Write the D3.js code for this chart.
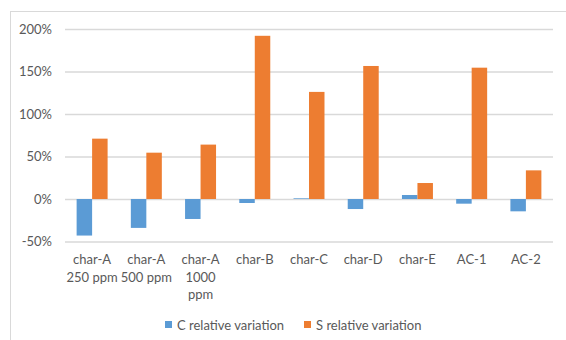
<!DOCTYPE html>
<html>
<head>
<meta charset="utf-8">
<script src="https://cdn.jsdelivr.net/npm/d3@7"></script>
<style>
  html, body { margin: 0; padding: 0; background: #fff; }
  svg text { font-family: Lato, "Liberation Sans", sans-serif; fill: #595959; }
</style>
</head>
<body>
<svg id="chart" width="566" height="340"></svg>
<script>
// Relative variation of C and S per sample
const categories = ["char-A 250 ppm", "char-A 500 ppm", "char-A 1000 ppm", "char-B", "char-C", "char-D", "char-E", "AC-1", "AC-2"];
const categoryLines = [["char-A", "250 ppm"], ["char-A", "500 ppm"], ["char-A", "1000", "ppm"], ["char-B"], ["char-C"], ["char-D"], ["char-E"], ["AC-1"], ["AC-2"]];
const cVariation = [-0.43, -0.34, -0.235, -0.047, 0.008, -0.118, 0.047, -0.055, -0.145];
const sVariation = [0.71, 0.545, 0.64, 1.92, 1.26, 1.565, 0.188, 1.545, 0.337];
const seriesNames = ["C relative variation", "S relative variation"];
const yTicks = [-0.5, 0, 0.5, 1, 1.5, 2];

const colors = ["#5B9BD5", "#ED7D31"];
const svg = d3.select("#chart");

// chart frame
svg.append("rect")
  .attr("x", 10.5).attr("y", 11.5)
  .attr("width", 700).attr("height", 500)
  .attr("fill", "none").attr("stroke", "#D9D9D9");

const plot = { left: 65, right: 553, top: 29, bottom: 241.5 };

const y = d3.scaleLinear().domain([-0.5, 2]).range([plot.bottom, plot.top]);
const x = d3.scaleBand().domain(categories).range([plot.left, plot.right]).paddingInner(0).paddingOuter(0);
const inner = d3.scaleBand().domain([0, 1]).range([0, x.bandwidth() * 0.5714]);
const offset = (x.bandwidth() - inner.range()[1]) / 2;

// percent labels with a plain hyphen for negatives
const pct = d => (d < 0 ? "-" : "") + Math.round(Math.abs(d) * 100) + "%";

// gridlines + tick labels via a left axis
const yAxis = d3.axisLeft(y).tickValues(yTicks).tickFormat(pct)
  .tickSize(-(plot.right - plot.left)).tickPadding(13);
const gy = svg.append("g").attr("transform", `translate(${plot.left},0)`).call(yAxis);
gy.select(".domain").remove();
gy.selectAll(".tick line").attr("stroke", "#D9D9D9").attr("stroke-width", 1.3);
gy.selectAll(".tick text").attr("font-size", 13).style("fill", "#595959");

// bars
const series = [cVariation, sVariation];
series.forEach((vals, si) => {
  svg.append("g").selectAll("rect")
    .data(vals.map((v, i) => ({ v, c: categories[i] })))
    .join("rect")
    .attr("x", d => x(d.c) + offset + inner(si))
    .attr("width", inner.bandwidth())
    .attr("y", d => Math.min(y(d.v), y(0)))
    .attr("height", d => Math.abs(y(d.v) - y(0)))
    .attr("fill", colors[si]);
});

// category labels (wrapped)
const gx = svg.append("g");
categoryLines.forEach((lines, i) => {
  const cx = x(categories[i]) + x.bandwidth() / 2;
  const t = gx.append("text")
    .attr("text-anchor", "middle")
    .attr("font-size", 13)
    .attr("x", cx)
    .attr("y", 264);
  lines.forEach((ln, j) => {
    t.append("tspan").attr("x", cx)
      .attr("dy", j === 0 ? 0 : 17.5).text(ln);
  });
});

// legend
const legendX = [165, 304];
seriesNames.forEach((name, i) => {
  svg.append("rect").attr("x", legendX[i]).attr("y", 321).attr("width", 7).attr("height", 7).attr("fill", colors[i]);
  svg.append("text").attr("x", legendX[i] + 12).attr("y", 330).attr("font-size", 13).text(name);
});
</script>
</body>
</html>
